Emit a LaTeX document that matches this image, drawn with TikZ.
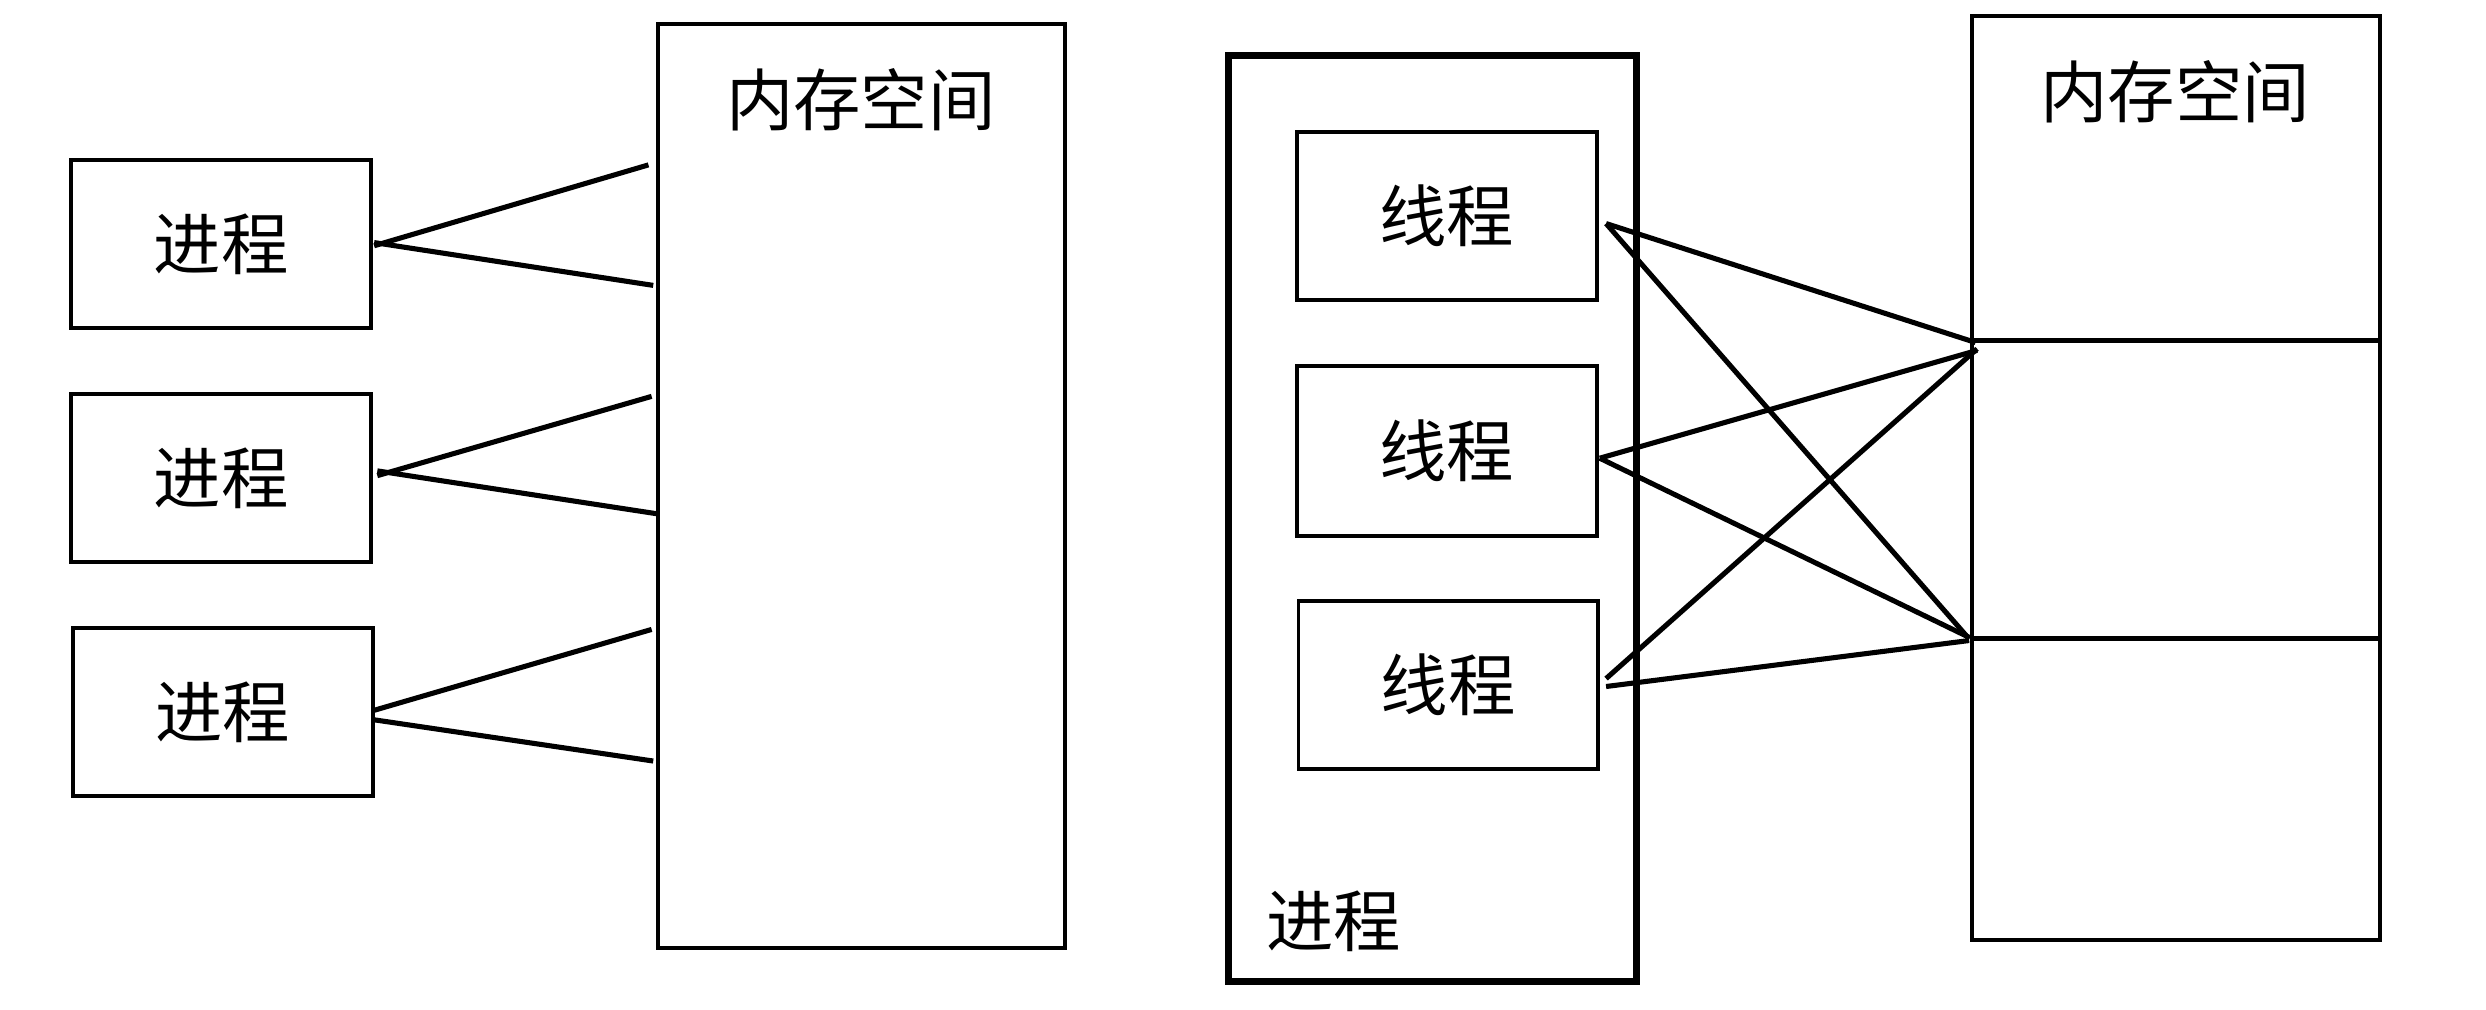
\documentclass[tikz,border=0pt]{standalone}
\usepackage{fontspec}
\newfontfamily\cjk{Noto Sans CJK SC}
\begin{document}
\begin{tikzpicture}[x=1pt,y=-1pt,
  box/.style={draw,line width=2.5pt,inner sep=0pt,minimum width=#1},
  lbl/.style={font=\cjk\fontsize{42.5}{50}\selectfont,inner sep=0pt},
  conn/.style={line width=3.2pt}]
\useasboundingbox (0,0) rectangle (1568,637);
% left processes
\node[box=189pt,minimum height=106pt,lbl] (p1) at (139.5,154) {进程};
\node[box=189pt,minimum height=106pt,lbl] (p2) at (139.5,301.5) {进程};
\node[box=189pt,minimum height=106pt,lbl] (p3) at (140.5,449) {进程};
% left memory
\node[box=257pt,minimum height=583pt] (m1) at (543.5,306.5) {};
\node[lbl] (m1t) at (543,63) {内存空间};
% endpoints left
\coordinate (a1) at (236,155); \coordinate (b1) at (409,104);
\coordinate (a1b) at (236,153); \coordinate (c1) at (412,180);
\coordinate (a2) at (238,300); \coordinate (b2) at (411,250);
\coordinate (a2b) at (238,297); \coordinate (c2) at (414,324);
\coordinate (a3) at (236,448); \coordinate (b3) at (411,397);
\coordinate (a3b) at (236,454); \coordinate (c3) at (412,480);
\draw[conn] (a1) -- (b1); \draw[conn] (a1b) -- (c1);
\draw[conn] (a2) -- (b2); \draw[conn] (a2b) -- (c2);
\draw[conn] (a3) -- (b3); \draw[conn] (a3b) -- (c3);
% big process
\node[draw,line width=4.5pt,minimum width=257pt,minimum height=584pt,inner sep=0pt] (bp) at (903.5,327) {};
\node[lbl] (bpt) at (841,581) {进程};
% threads
\node[box=189pt,minimum height=106pt,lbl] (t1) at (912.5,136) {线程};
\node[box=189pt,minimum height=107pt,lbl] (t2) at (912.5,284.5) {线程};
\node[box=189pt,minimum height=106pt,lbl] (t3) at (913.5,432) {线程};
% right memory
\node[box=257pt,minimum height=583pt] (m2) at (1372.5,301.5) {};
\node[lbl] (m2t) at (1372,58) {内存空间};
\coordinate (d1l) at (1244,215); \coordinate (d1r) at (1501,215);
\coordinate (d2l) at (1244,403); \coordinate (d2r) at (1501,403);
\draw[line width=3.2pt] (d1l) -- (d1r);
\draw[line width=3.2pt] (d2l) -- (d2r);
% thread connectors
\coordinate (e1) at (1013,141);
\coordinate (e2) at (1009,289);
\coordinate (e3) at (1013,428);
\coordinate (e3b) at (1013,433);
\coordinate (s1) at (1246,216);
\coordinate (s1b) at (1247,221);
\coordinate (s1c) at (1247,220);
\coordinate (s2) at (1242,403);
\coordinate (s2b) at (1242,402);
\coordinate (s2c) at (1242,404);
\draw[conn] (e1) -- (s1);
\draw[conn] (e1) -- (s2);
\draw[conn] (e2) -- (s1b);
\draw[conn] (e2) -- (s2b);
\draw[conn] (e3) -- (s1c);
\draw[conn] (e3b) -- (s2c);
\end{tikzpicture}
\end{document}
